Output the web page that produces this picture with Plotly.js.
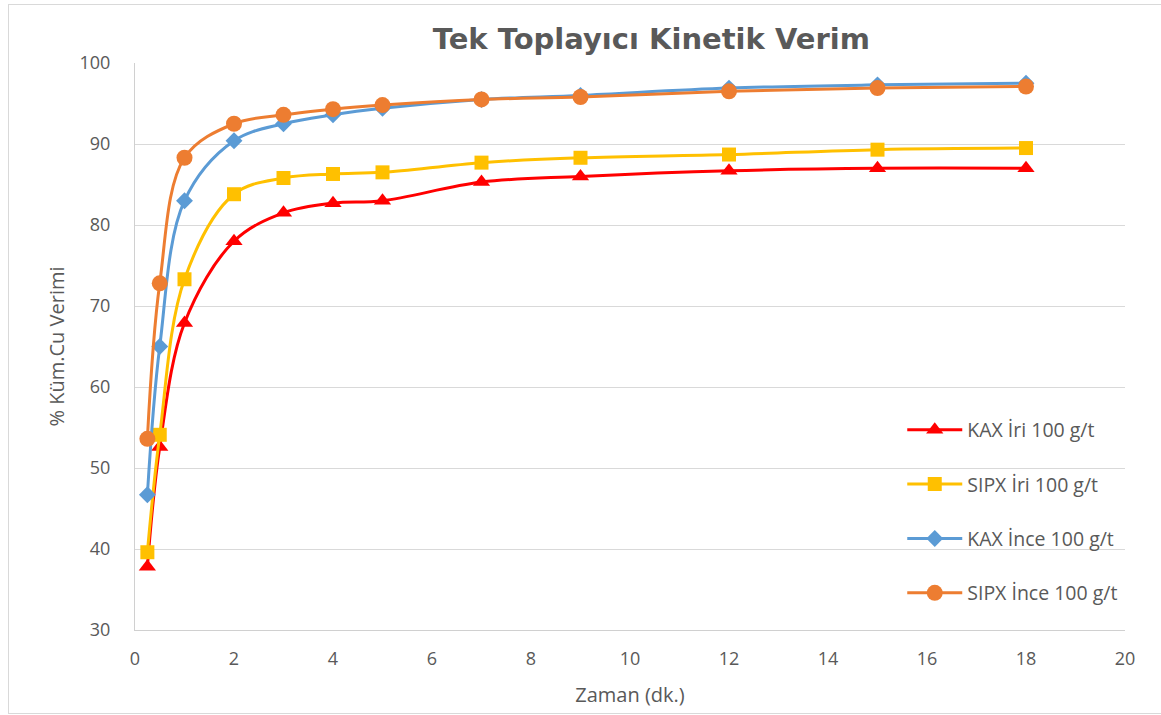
<!DOCTYPE html>
<html>
<head>
<meta charset="utf-8">
<script src="https://cdn.plot.ly/plotly-3.0.1.min.js"></script>
<style>
html,body{margin:0;padding:0;background:#fff;}
#chart{width:1161px;height:715px;}
#frame{position:absolute;left:8px;top:4px;width:1160px;height:708px;border:1px solid #d9d9d9;pointer-events:none;}
</style>
</head>
<body>
<div id="chart"></div>
<div id="frame"></div>
<script>
const times = [0.25, 0.5, 1, 2, 3, 4, 5, 7, 9, 12, 15, 18];
const seriesNames = ["KAX İri 100 g/t", "SIPX İri 100 g/t", "KAX İnce 100 g/t", "SIPX İnce 100 g/t"];
const kaxIri   = [37.8, 52.6, 67.9, 78.0, 81.5, 82.7, 83.0, 85.3, 86.0, 86.7, 87.0, 87.0];
const sipxIri  = [39.6, 54.1, 73.3, 83.8, 85.8, 86.3, 86.5, 87.7, 88.3, 88.7, 89.3, 89.5];
const kaxInce  = [46.7, 65.0, 83.0, 90.4, 92.5, 93.6, 94.4, 95.5, 96.0, 96.9, 97.3, 97.5];
const sipxInce = [53.6, 72.8, 88.3, 92.5, 93.6, 94.3, 94.8, 95.5, 95.8, 96.5, 96.9, 97.1];
const xTicks = [0, 2, 4, 6, 8, 10, 12, 14, 16, 18, 20];
const yTicks = [30, 40, 50, 60, 70, 80, 90, 100];

const colors = ["#FF0000", "#FFC000", "#5B9BD5", "#ED7D31"];
const symbols = ["triangle-up", "square", "diamond", "circle"];
const sizes = [15, 14, 13, 16];
const values = [kaxIri, sipxIri, kaxInce, sipxInce];

const traces = values.map((v, i) => ({
  type: "scatter",
  mode: "lines+markers",
  x: times,
  y: v,
  name: seriesNames[i],
  legendgroup: "g" + i,
  line: {color: colors[i], width: 3, shape: "spline", smoothing: 1},
  marker: {color: colors[i], symbol: symbols[i], size: sizes[i]}
}));

const font = "Open Sans, Noto Sans, sans-serif";
const layout = {
  width: 1161, height: 715,
  margin: {l: 135, r: 36, t: 63, b: 85},
  paper_bgcolor: "#fff", plot_bgcolor: "#fff",
  title: {text: "Tek Toplayıcı Kinetik Verim", x: 0.561, xanchor: "center", y: 0.945, yanchor: "middle",
          font: {family: "DejaVu Sans, Verdana, sans-serif", size: 29, color: "#595959", weight: "bold"}},
  xaxis: {
    range: [0, 20], tickvals: xTicks, ticktext: xTicks.map(String),
    showgrid: false, zeroline: false, showline: true, linecolor: "#d0d0d0", linewidth: 1,
    ticks: "", ticklabelstandoff: 12, tickfont: {family: font, size: 18, color: "#595959"},
    title: {text: "Zaman (dk.)", font: {family: font, size: 20, color: "#595959"}, standoff: 19}
  },
  yaxis: {
    range: [30, 100], tickvals: yTicks, ticktext: yTicks.map(String),
    showgrid: true, gridcolor: "#d9d9d9", gridwidth: 1, zeroline: false,
    showline: true, linecolor: "#d0d0d0", linewidth: 1,
    ticks: "", ticklabelstandoff: 20, tickfont: {family: font, size: 18, color: "#595959"},
    title: {text: "% Küm.Cu Verimi", font: {family: font, size: 20, color: "#595959"}, standoff: 9}
  },
  showlegend: true,
  legend: {
    x: 0.775, xanchor: "left", y: 0.387, yanchor: "top",
    bgcolor: "rgba(255,255,255,0)", tracegroupgap: 26,
    font: {family: font, size: 19.5, color: "#595959"},
    itemwidth: 55
  }
};

Plotly.newPlot("chart", traces, layout, {displayModeBar: false, staticPlot: true});
</script>
</body>
</html>
